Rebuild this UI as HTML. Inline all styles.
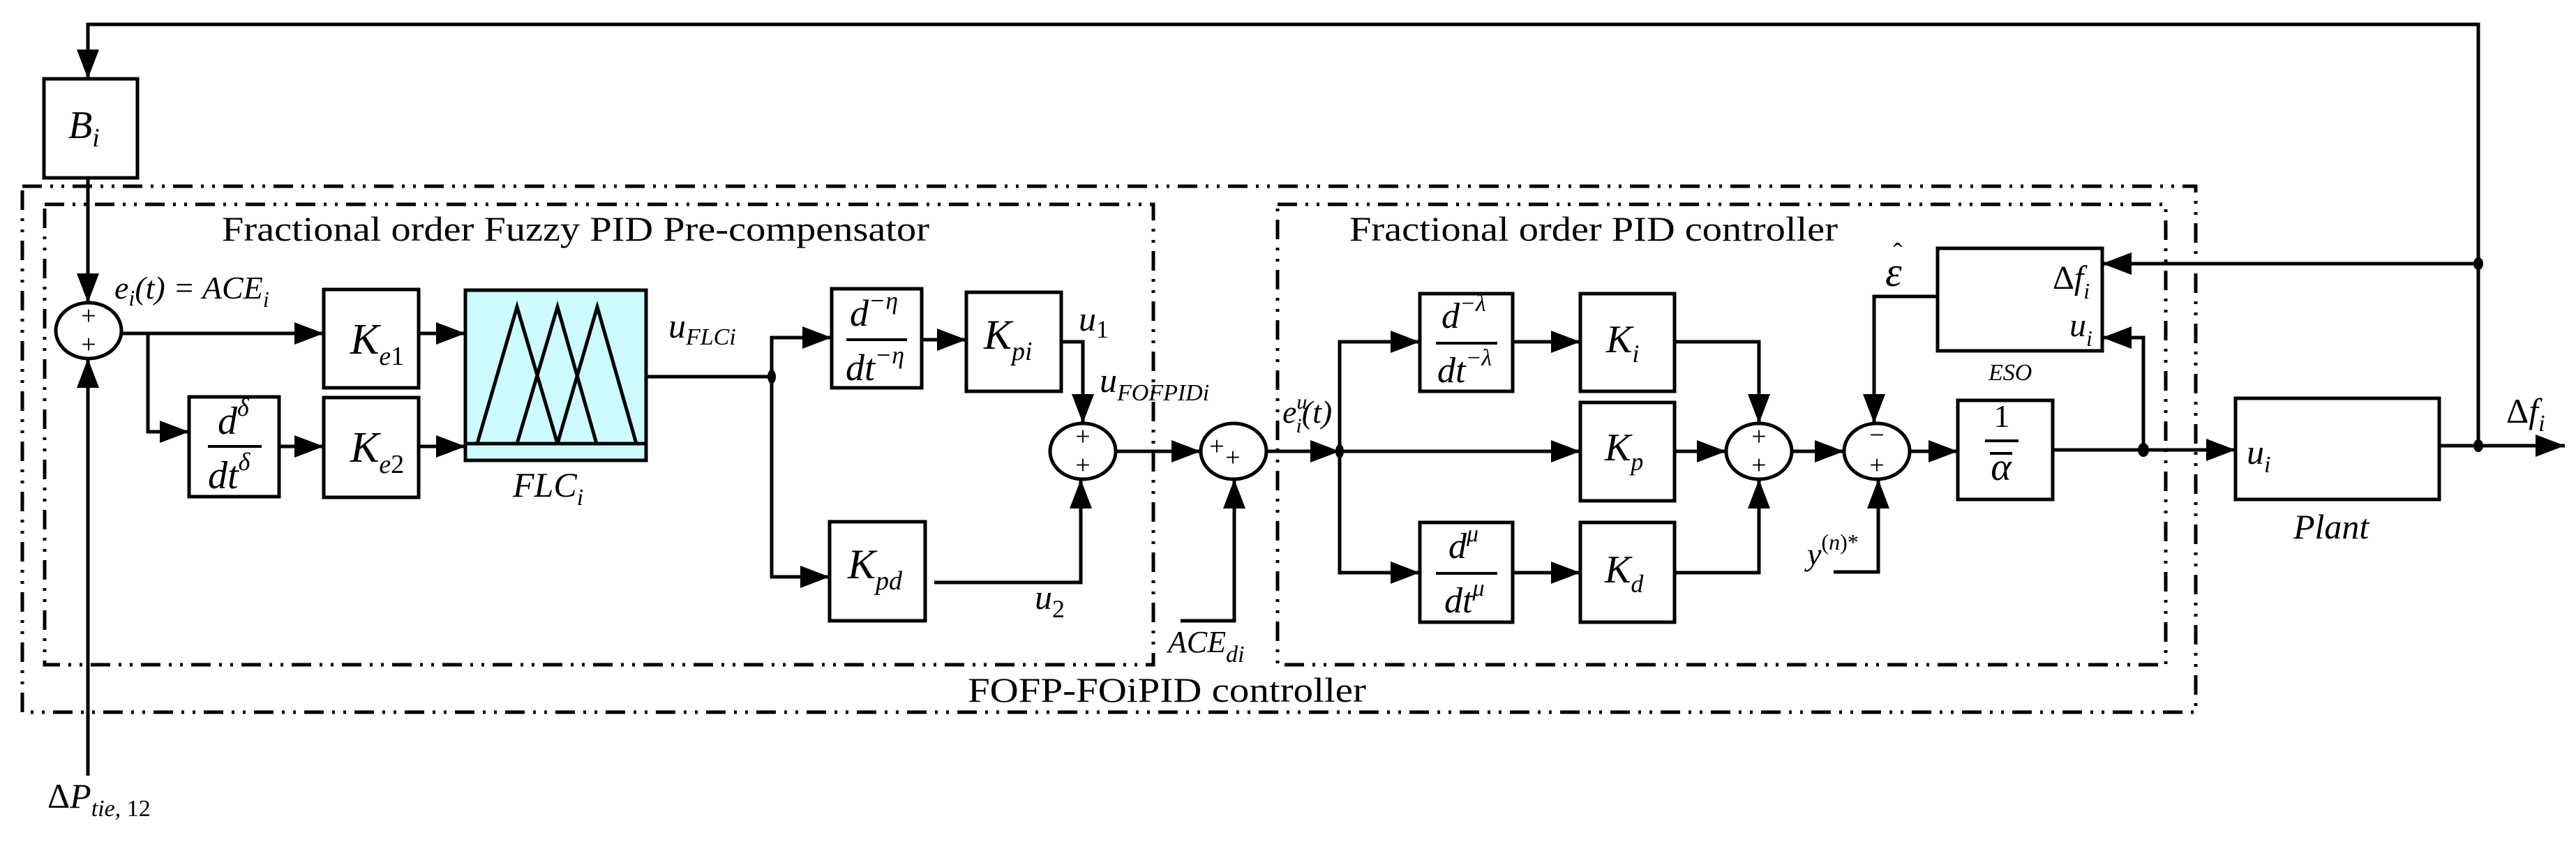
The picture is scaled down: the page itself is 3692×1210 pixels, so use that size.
<!DOCTYPE html>
<html><head><meta charset="utf-8"><style>
html,body{margin:0;padding:0;background:#fff;}
svg{display:block;}
text{font-family:"Liberation Serif",serif;fill:#000;}
.it{font-style:italic;}
</style></head><body>
<svg width="3692" height="1210" viewBox="0 0 3692 1210" xmlns="http://www.w3.org/2000/svg">
<defs>
<marker id="a" markerUnits="userSpaceOnUse" markerWidth="44" markerHeight="34" refX="42" refY="16" orient="auto">
<path d="M0,0 L42,16 L0,32 Z" fill="#000"/>
</marker>
</defs>
<g fill="none" stroke="#000" stroke-width="4">
<rect x="32" y="267" width="3115" height="754" stroke-dasharray="28 12 4 12 4 12" stroke-width="5"/>
<rect x="64" y="293" width="1589" height="660" stroke-dasharray="28 12 4 12 4 12" stroke-width="5"/>
<rect x="1831" y="293" width="1273" height="660" stroke-dasharray="28 12 4 12 4 12" stroke-width="5"/>
</g>
<g fill="none" stroke="#000" stroke-width="5">
<rect x="63" y="113" width="134" height="142"/>
<rect x="464" y="415" width="136" height="141"/>
<rect x="464" y="570" width="136" height="143"/>
<rect x="271" y="569" width="129" height="143"/>
<rect x="667" y="416" width="259" height="244" fill="#ccfcff"/>
<rect x="1192" y="414" width="129" height="142"/>
<rect x="1385" y="419" width="136" height="142"/>
<rect x="1189" y="748" width="137" height="142"/>
<rect x="2035" y="421" width="133" height="140"/>
<rect x="2265" y="421" width="135" height="140"/>
<rect x="2265" y="577" width="135" height="141"/>
<rect x="2035" y="749" width="133" height="143"/>
<rect x="2265" y="749" width="135" height="143"/>
<rect x="2777" y="356" width="236" height="147"/>
<rect x="2806" y="574" width="136" height="142"/>
<rect x="3204" y="571" width="292" height="145"/>
<path d="M684,636 L741,440 L799,636 M741,636 L799,440 L855,636 M799,636 L856,440 L912,636 M667,636 H926"/>
<ellipse cx="127" cy="474" rx="47" ry="40"/>
<ellipse cx="1552" cy="647" rx="47" ry="40"/>
<ellipse cx="1768" cy="647" rx="47" ry="40"/>
<ellipse cx="2521" cy="647" rx="47" ry="40"/>
<ellipse cx="2690" cy="647" rx="47" ry="40"/>
<path d="M298,640 H375 M1213,487 H1300 M2058,492 H2146 M2058,822 H2146 M2845,632 H2893 M2852,650 H2884" stroke-width="4"/>
<path d="M3552,639 V35 H126 V113" marker-end="url(#a)"/>
<path d="M126,255 V434" marker-end="url(#a)"/>
<path d="M126,1112 V514" marker-end="url(#a)"/>
<path d="M174,478 H464" marker-end="url(#a)"/>
<path d="M212,478 V619 H271" marker-end="url(#a)"/>
<path d="M400,640 H464" marker-end="url(#a)"/>
<path d="M600,478 H667" marker-end="url(#a)"/>
<path d="M600,640 H667" marker-end="url(#a)"/>
<path d="M926,540 H1106"/>
<path d="M1106,540 V484 H1192" marker-end="url(#a)"/>
<path d="M1106,540 V827 H1189" marker-end="url(#a)"/>
<path d="M1321,487 H1385" marker-end="url(#a)"/>
<path d="M1521,490 H1552 V607" marker-end="url(#a)"/>
<path d="M1339,835 H1549 V687" marker-end="url(#a)"/>
<path d="M1599,647 H1721" marker-end="url(#a)"/>
<path d="M1692,890 H1769 V687" marker-end="url(#a)"/>
<path d="M1815,647 H1920" marker-end="url(#a)"/>
<path d="M1920,647 H2265" marker-end="url(#a)"/>
<path d="M1920,647 V490 H2035" marker-end="url(#a)"/>
<path d="M1920,647 V821 H2035" marker-end="url(#a)"/>
<path d="M2168,490 H2265" marker-end="url(#a)"/>
<path d="M2168,821 H2265" marker-end="url(#a)"/>
<path d="M2400,490 H2521 V607" marker-end="url(#a)"/>
<path d="M2400,821 H2521 V687" marker-end="url(#a)"/>
<path d="M2400,647 H2474" marker-end="url(#a)"/>
<path d="M2568,647 H2643" marker-end="url(#a)"/>
<path d="M2777,425 H2686 V607" marker-end="url(#a)"/>
<path d="M2628,820 H2692 V687" marker-end="url(#a)"/>
<path d="M2737,647 H2806" marker-end="url(#a)"/>
<path d="M2942,645 H3204" marker-end="url(#a)"/>
<path d="M3072,645 V484 H3013" marker-end="url(#a)"/>
<path d="M3552,378 H3013" marker-end="url(#a)"/>
<path d="M3496,639 H3676" marker-end="url(#a)"/>
</g>
<g fill="#000">
<ellipse cx="1106" cy="540" rx="6" ry="10"/>
<ellipse cx="1920" cy="647" rx="6" ry="10"/>
<ellipse cx="3072" cy="645" rx="8" ry="10"/>
<ellipse cx="3552" cy="378" rx="7" ry="9"/>
<ellipse cx="3552" cy="639" rx="7" ry="9"/>
</g>
<g font-size="38" text-anchor="middle">
<text x="127" y="465">+</text><text x="127" y="506">+</text>
<text x="1552" y="638">+</text><text x="1552" y="679">+</text>
<text x="1744" y="652">+</text><text x="1767" y="668">+</text>
<text x="2521" y="638">+</text><text x="2521" y="679">+</text>
<text x="2690" y="636">−</text><text x="2690" y="679">+</text>
</g>
<text x="318" y="345" font-size="50" textLength="1014" lengthAdjust="spacingAndGlyphs">Fractional order Fuzzy PID Pre-compensator</text>
<text x="1934" y="345" font-size="50" textLength="700" lengthAdjust="spacingAndGlyphs">Fractional order PID controller</text>
<text x="1387" y="1006" font-size="50" textLength="571" lengthAdjust="spacingAndGlyphs">FOFP-FOiPID controller</text>
<g class="it">
<text x="98" y="198" font-size="56" class="it">B<tspan font-size="38" dy="12">i</tspan></text>
<text x="164" y="428" font-size="46" class="it">e<tspan font-size="32" dy="10">i</tspan><tspan dy="-10">(t) = ACE</tspan><tspan font-size="32" dy="12">i</tspan></text>
<text x="502" y="507" font-size="62" class="it">K<tspan font-size="38" dy="16">e</tspan><tspan font-size="38" font-style="normal">1</tspan></text>
<text x="502" y="662" font-size="62" class="it">K<tspan font-size="38" dy="16">e</tspan><tspan font-size="38" font-style="normal">2</tspan></text>
<text x="312" y="622" font-size="56" class="it">d<tspan font-size="36" dy="-26">δ</tspan></text>
<text x="298" y="700" font-size="56" class="it">dt<tspan font-size="36" dy="-26">δ</tspan></text>
<text x="735" y="712" font-size="50" class="it">FLC<tspan font-size="34" dy="12">i</tspan></text>
<text x="958" y="484" font-size="50" class="it">u<tspan font-size="34" dy="10">FLCi</tspan></text>
<text x="1218" y="467" font-size="54" class="it">d<tspan font-size="36" dy="-24">−η</tspan></text>
<text x="1212" y="545" font-size="54" class="it">dt<tspan font-size="36" dy="-24">−η</tspan></text>
<text x="1410" y="500" font-size="60" class="it">K<tspan font-size="38" dy="16">pi</tspan></text>
<text x="1215" y="829" font-size="60" class="it">K<tspan font-size="38" dy="16">pd</tspan></text>
<text x="1546" y="474" font-size="50" class="it">u<tspan font-size="36" dy="10" font-style="normal">1</tspan></text>
<text x="1576" y="562" font-size="50" class="it">u<tspan font-size="34" dy="12">FOFPIDi</tspan></text>
<text x="1483" y="873" font-size="50" class="it">u<tspan font-size="36" dy="12" font-style="normal">2</tspan></text>
<text x="1674" y="935" font-size="44" class="it">ACE<tspan font-size="34" dy="14">di</tspan></text>
<text x="1838" y="606" font-size="46" class="it">e<tspan font-size="30" dy="-20">u</tspan><tspan font-size="30" dx="-16" dy="34">i</tspan><tspan dy="-14">(t)</tspan></text>
<text x="2066" y="470" font-size="52" class="it">d<tspan font-size="34" dy="-24">−λ</tspan></text>
<text x="2060" y="548" font-size="52" class="it">dt<tspan font-size="34" dy="-24">−λ</tspan></text>
<text x="2076" y="800" font-size="52" class="it">d<tspan font-size="34" dy="-24">μ</tspan></text>
<text x="2070" y="878" font-size="52" class="it">dt<tspan font-size="34" dy="-24">μ</tspan></text>
<text x="2302" y="505" font-size="56" class="it">K<tspan font-size="36" dy="14">i</tspan></text>
<text x="2300" y="660" font-size="56" class="it">K<tspan font-size="36" dy="14">p</tspan></text>
<text x="2300" y="835" font-size="56" class="it">K<tspan font-size="36" dy="14">d</tspan></text>
<text x="2702" y="410" font-size="60" class="it">ε</text>
<text x="2713" y="376" font-size="40" font-style="normal">ˆ</text>
<text x="2942" y="414" font-size="48" class="it"><tspan font-style="normal">Δ</tspan>f<tspan font-size="32" dy="14">i</tspan></text>
<text x="2966" y="482" font-size="48" class="it">u<tspan font-size="32" dy="14">i</tspan></text>
<text x="2850" y="545" font-size="34" class="it">ESO</text>
<text x="2590" y="810" font-size="46" class="it">y<tspan font-size="32" dy="-22" font-style="normal">(</tspan><tspan font-size="32">n</tspan><tspan font-size="32" font-style="normal">)*</tspan></text>
<text x="2869" y="612" font-size="46" text-anchor="middle" font-style="normal">1</text>
<text x="2868" y="688" font-size="56" text-anchor="middle" class="it">α</text>
<text x="3220" y="665" font-size="50" class="it">u<tspan font-size="34" dy="12">i</tspan></text>
<text x="3287" y="772" font-size="50" class="it">Plant</text>
<text x="3592" y="606" font-size="50" class="it"><tspan font-style="normal">Δ</tspan>f<tspan font-size="34" dy="12">i</tspan></text>
<text x="68" y="1158" font-size="50" class="it"><tspan font-style="normal">Δ</tspan>P<tspan font-size="34" dy="12">tie,</tspan><tspan font-size="34" font-style="normal"> 12</tspan></text>
</g>
</svg>
</body></html>
